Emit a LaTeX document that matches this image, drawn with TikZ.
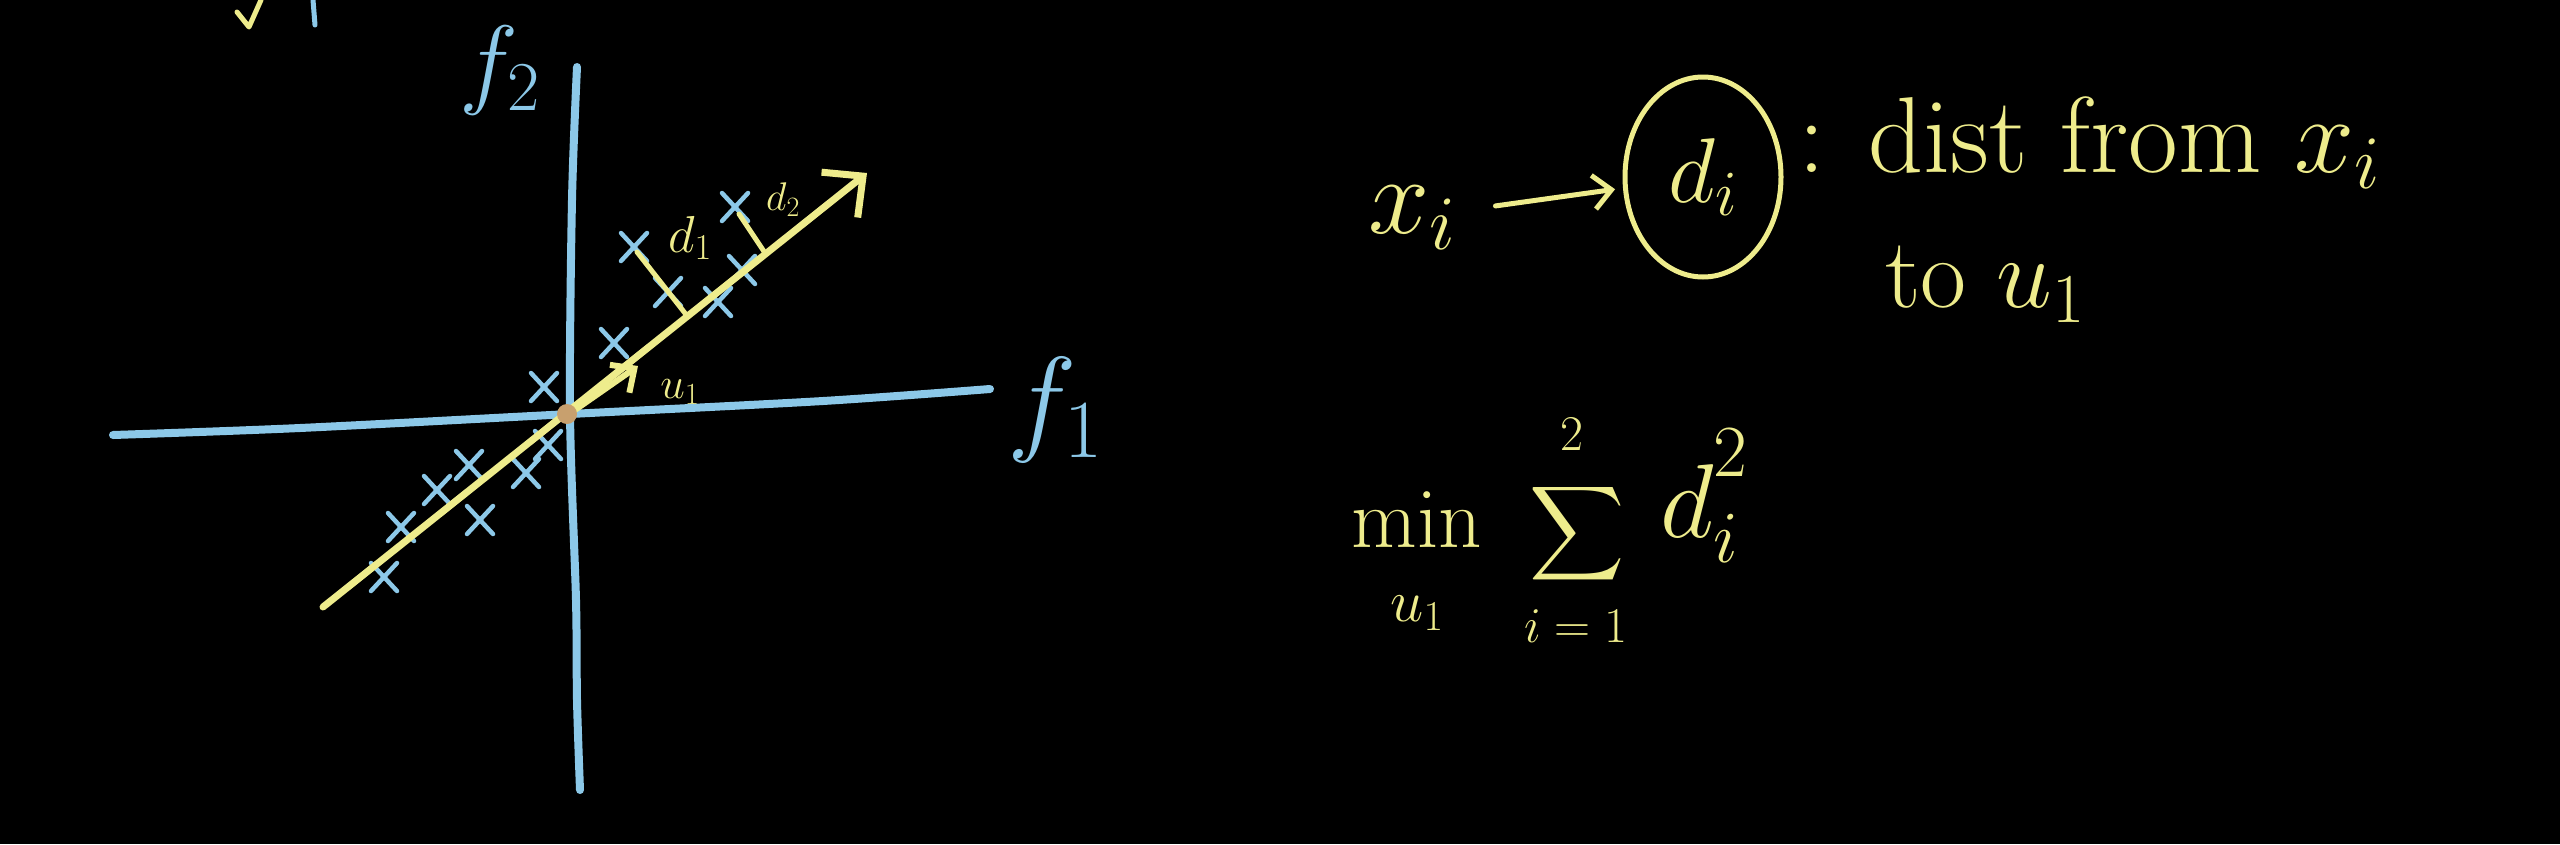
\RequirePackage{fix-cm}
\documentclass[tikz,border=0pt]{standalone}
\usepackage{amsmath}
\usepackage{graphicx}
\usetikzlibrary{arrows.meta,shapes.geometric}
\definecolor{chalkblue}{RGB}{140,200,232}
\definecolor{chalkyellow}{RGB}{238,236,140}
\definecolor{dotcol}{RGB}{200,160,110}
\tikzset{
  axisline/.style={draw=chalkblue,line width=8pt,line cap=round,line join=round},
  yline/.style={draw=chalkyellow,line width=7pt,line cap=round,line join=round},
  bigbarb/.style={-{Straight Barb[length=30pt,width=58pt]}},
  smallbarb/.style={-{Straight Barb[length=18pt,width=34pt]}},
  ytext/.style={text=chalkyellow,inner sep=0pt},
  btext/.style={text=chalkblue,inner sep=0pt},
  xmark/.pic={\draw[chalkblue,line width=4.5pt,line cap=round] (-13,-14)--(13,14) (-13,14)--(13,-14);}
}
\begin{document}
\begin{tikzpicture}[x=1pt,y=-1pt]
\fill[black] (0,0) rectangle (2560,844);
\useasboundingbox (0,0) rectangle (2560,844);

% cut-off fragments at the top edge
\draw[yline,line width=5pt] (237,12) -- (249,27) -- (261,0);
\draw[axisline,line width=5pt] (313,0) -- (315,25);

% axes
\draw[axisline] plot[smooth] coordinates {(113,435) (300,428) (570,414) (823,401) (990,389)};
\draw[axisline] plot[smooth] coordinates {(577,67) (572,200) (570,413) (576,600) (577,700) (580,790)};
\node[btext,font=\fontsize{100}{120}\selectfont] (f2lab) at (500,70) {$f_2$};
\node[btext,font=\fontsize{118}{140}\selectfont] (f1lab) at (1055,410) {$f_1$};

% data points
\foreach \p in {(384,577),(401,527),(437,490),(469,465),(480,520),(526,473),(548,445),(544,387),
                (614,343),(634,247),(668,292),(718,302),(742,270),(735,207)}
  \pic at \p {xmark};

% principal direction
\coordinate (ustart) at (323,607);
\coordinate (uend) at (867,173);
\draw[yline,bigbarb] (ustart) -- (uend);
\coordinate (orig) at (562,419);
\coordinate (u1tip) at (638,366);
\draw[yline,line width=6pt,smallbarb] (orig) -- (u1tip);
\fill[dotcol] (567,414) circle (10);
\node[ytext,font=\fontsize{44}{52}\selectfont] (u1lab) at (680,392) {$u_1$};

% distances
\coordinate (c1) at (637,252);
\coordinate (foot1) at (688,317);
\draw[yline,line width=5pt] (c1) -- (foot1);
\node[ytext,font=\fontsize{52}{60}\selectfont] (d1lab) at (690,238) {$d_1$};
\coordinate (c2) at (739,214);
\coordinate (foot2) at (765,253);
\draw[yline,line width=5pt] (c2) -- (foot2);
\node[ytext,font=\fontsize{40}{48}\selectfont] (d2lab) at (783,200) {$d_2$};

% right-hand text
\node[ytext,anchor=base west,font=\fontsize{110}{130}\selectfont] (xi) at (1368,233) {$x_i$};
\node[draw=chalkyellow,line width=5pt,ellipse,minimum width=156pt,minimum height=200pt,
      inner sep=0pt,text=chalkyellow,font=\fontsize{92}{110}\selectfont] (di) at (1703,177) {$d_i$};
\draw[yline,line width=5pt,smallbarb,shorten <=40pt,shorten >=8pt] (xi) -- (di);
\node[ytext,anchor=base west,font=\fontsize{108}{130}\selectfont] (dist) at (1798,172) {: dist from $x_i$};
\node[ytext,anchor=base west,font=\fontsize{100}{120}\selectfont] (tou) at (1885,307) {to $u_1$};

\node[ytext,anchor=base,font=\fontsize{85}{100}\selectfont] (minop) at (1417,547) {$\displaystyle\min_{\rule{0pt}{70pt}u_1}$};
\node[ytext,font=\normalsize] (sigma) at (1577,534) {\scalebox{6.6}{$\displaystyle\sum$}};
\node[ytext,font=\fontsize{50}{60}\selectfont] (sumtop) at (1572,434) {$2$};
\node[ytext,font=\fontsize{50}{60}\selectfont] (sumbot) at (1576,626) {$i=1$};
\node[ytext,anchor=base west,font=\fontsize{105}{120}\selectfont] (dsq) at (1660,537) {$d_i^{\raisebox{22pt}{$\scriptstyle 2$}}$};
\end{tikzpicture}
\end{document}
